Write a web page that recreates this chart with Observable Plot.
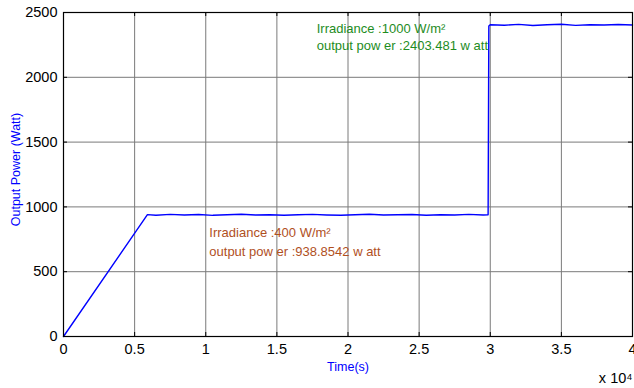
<!DOCTYPE html>
<html><head><meta charset="utf-8">
<script src="https://cdn.jsdelivr.net/npm/d3@7"></script>
<script src="https://cdn.jsdelivr.net/npm/@observablehq/plot@0.6"></script>
<style>
body{margin:0;background:#fff;}
#chart svg{display:block;}
</style></head>
<body><div id="chart"></div>
<script>
// time in units of 1e4 s
const time = [0, 0.59, 0.65, 0.75, 0.85, 0.95, 1.05, 1.15, 1.25, 1.35, 1.45, 1.55, 1.65, 1.75, 1.85, 1.95, 2.05, 2.15, 2.25, 2.35, 2.45, 2.55, 2.65, 2.75, 2.85, 2.95, 2.985,
              2.99, 3.0, 3.1, 3.2, 3.3, 3.4, 3.5, 3.6, 3.7, 3.8, 3.9, 4.0];
const power = [0, 940, 936, 942, 938, 941, 935, 939, 943, 937, 940, 936, 939, 942, 938, 935, 940, 943, 937, 939, 941, 936, 940, 938, 942, 937, 939,
               2395, 2406, 2402, 2408, 2400, 2405, 2409, 2401, 2406, 2403, 2407, 2404];
const xTicks = [0, 0.5, 1, 1.5, 2, 2.5, 3, 3.5, 4];
const yTicks = [0, 500, 1000, 1500, 2000, 2500];
const note1000 = ["Irradiance :1000 W/m²", "output pow er :2403.481 w att"];
const note400 = ["Irradiance :400 W/m²", "output pow er :938.8542 w att"];

const data = time.map((t, i) => ({t, p: power[i]}));
const font = "Liberation Sans, Arial, sans-serif";
const tx = 4 * 4 / 569, ty = 2500 * 4 / 324;

const chart = Plot.plot({
  width: 634, height: 388,
  marginLeft: 63, marginRight: 2, marginTop: 12, marginBottom: 52,
  style: {fontFamily: font, fontSize: "14.5px", color: "#000", background: "#fff"},
  x: {domain: [0, 4], ticks: xTicks},
  y: {domain: [0, 2500], ticks: yTicks},
  marks: [
    Plot.gridX(xTicks, {stroke: "#7a7a7a", strokeOpacity: 1, strokeWidth: 1}),
    Plot.gridY(yTicks, {stroke: "#7a7a7a", strokeOpacity: 1, strokeWidth: 1}),
    Plot.ruleX(xTicks, {y1: 0, y2: ty, stroke: "#000"}),
    Plot.ruleX(xTicks, {y1: 2500 - ty, y2: 2500, stroke: "#000"}),
    Plot.ruleY(yTicks, {x1: 0, x2: tx, stroke: "#000"}),
    Plot.ruleY(yTicks, {x1: 4 - tx, x2: 4, stroke: "#000"}),
    Plot.axisX(xTicks, {tickSize: 0, tickPadding: 7, label: null, fontSize: 14.5, tickFormat: d => String(d)}),
    Plot.axisY(yTicks, {tickSize: 0, tickPadding: 6, label: null, fontSize: 14.5, tickFormat: d => String(d)}),
    Plot.line(data, {x: "t", y: "p", stroke: "#0000ff", strokeWidth: 1.4}),
    Plot.frame({stroke: "#000", strokeWidth: 1.2}),
    Plot.text(note1000, {x: 1.78, y: [2377, 2245], text: d => d, textAnchor: "start", fill: "#1e8c1e", fontSize: 13}),
    Plot.text(note400, {x: 1.025, y: [797, 650], text: d => d, textAnchor: "start", fill: "#b0501e", fontSize: 13}),
    Plot.text(["Time(s)"], {frameAnchor: "bottom", dy: 34, text: d => d, textAnchor: "middle", fill: "#0000ff", fontSize: 12.5}),
    Plot.text(["x 10⁴"], {frameAnchor: "bottom-right", dy: 46, dx: 0, text: d => d, textAnchor: "end", fill: "#000", fontSize: 14.5}),
    Plot.text(["Output Power (Watt)"], {frameAnchor: "left", dx: -48, dy: -5, rotate: -90, text: d => d, textAnchor: "middle", fill: "#0000ff", fontSize: 12.5})
  ]
});
document.getElementById("chart").append(chart);
</script></body></html>
